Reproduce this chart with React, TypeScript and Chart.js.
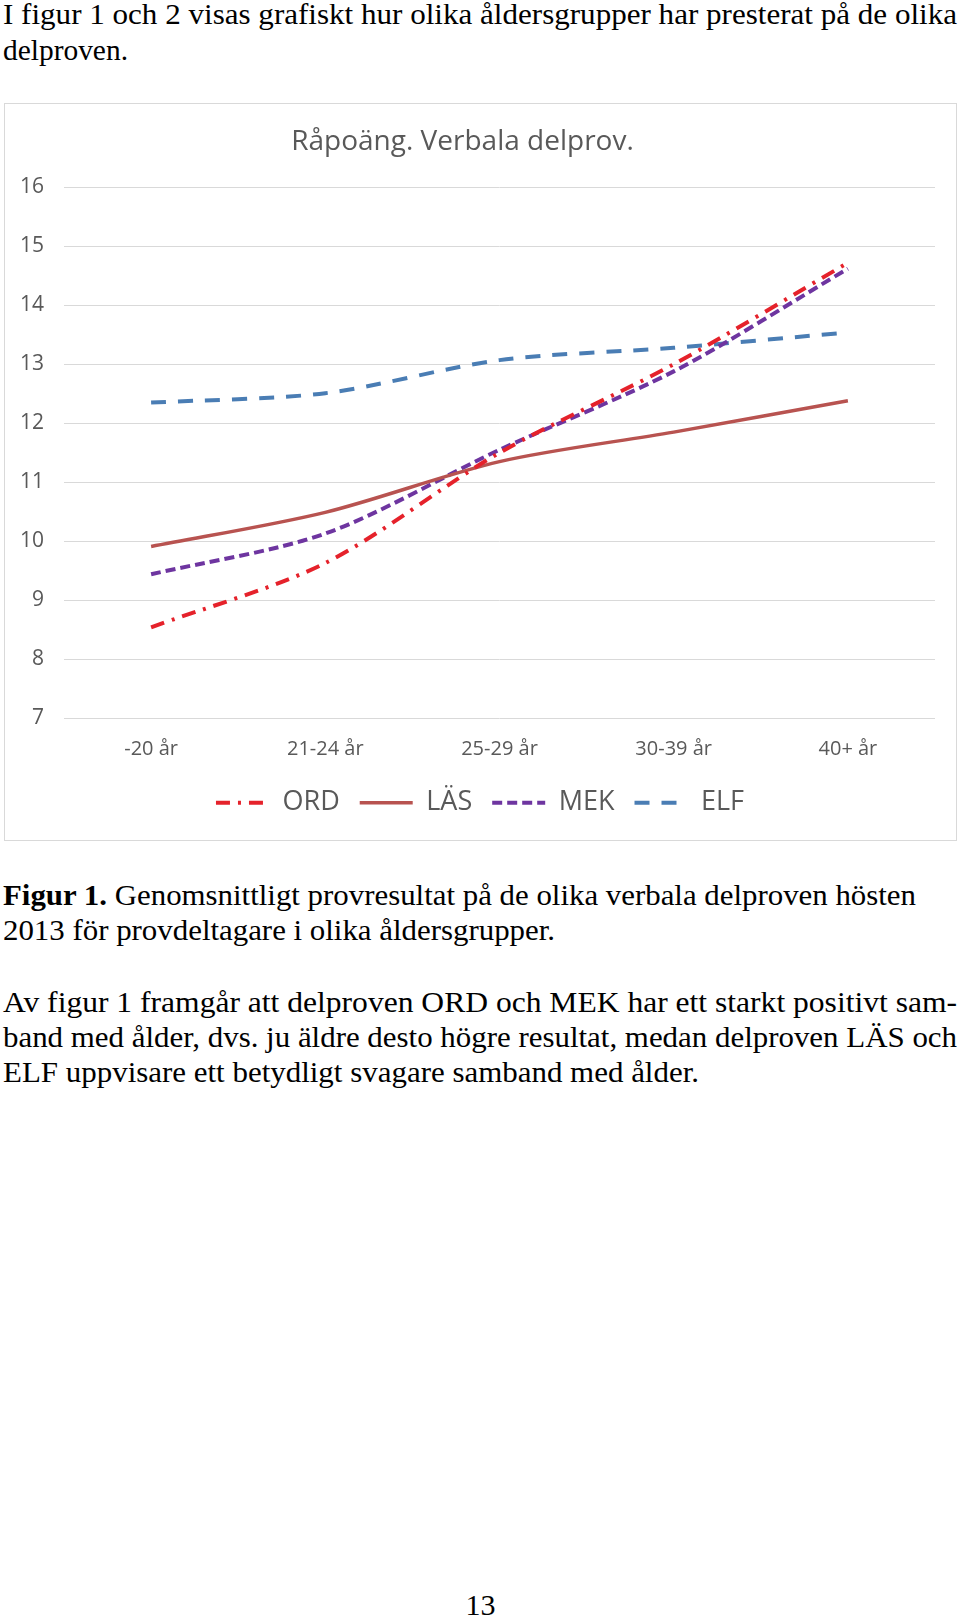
import React, { useEffect, useRef } from "react";
import { Chart, registerables } from "chart.js";

Chart.register(...registerables);

const categories = ["-20 år", "21-24 år", "25-29 år", "30-39 år", "40+ år"];
const ordValues = [8.54, 9.63, 11.5, 13.0, 14.72];
const lasValues = [9.91, 10.49, 11.35, 11.85, 12.38];
const mekValues = [9.44, 10.13, 11.55, 12.88, 14.62];
const elfValues = [12.35, 12.51, 13.07, 13.28, 13.54];
const seriesNames = ["ORD", "LÄS", "MEK", "ELF"];
const yMin = 7;
const yMax = 16;
const yStep = 1;
const chartTitle = "Råpoäng. Verbala delprov.";

const textGray = "#595959";
const tickFont = "'Open Sans', 'DejaVu Sans', sans-serif";

const titlePlugin = {
  id: "offsetTitle",
  afterDraw(chart: any) {
    const ctx = chart.ctx;
    ctx.save();
    ctx.font = `28px ${tickFont}`;
    ctx.fillStyle = textGray;
    ctx.textAlign = "center";
    ctx.textBaseline = "alphabetic";
    ctx.fillText(chartTitle, chart.width / 2 - 17.5, 46);
    ctx.restore();
  },
};

function LineChart() {
  const ref = useRef<HTMLCanvasElement | null>(null);
  useEffect(() => {
    if (!ref.current) return;
    const chart = new Chart(ref.current, {
      type: "line",
      data: {
        labels: categories,
        datasets: [
          {
            label: seriesNames[0],
            data: ordValues,
            borderColor: "#E5222B",
            backgroundColor: "#E5222B",
            borderWidth: 4,
            borderDash: [14, 8, 3, 8],
            borderCapStyle: "butt",
            pointRadius: 0,
            tension: 0.3,
          },
          {
            label: seriesNames[1],
            data: lasValues,
            borderColor: "#B85350",
            backgroundColor: "#B85350",
            borderWidth: 3.5,
            borderDash: [],
            pointRadius: 0,
            tension: 0.3,
          },
          {
            label: seriesNames[2],
            data: mekValues,
            borderColor: "#6E35A0",
            backgroundColor: "#6E35A0",
            borderWidth: 4,
            borderDash: [10, 5],
            borderCapStyle: "butt",
            pointRadius: 0,
            tension: 0.3,
          },
          {
            label: seriesNames[3],
            data: elfValues,
            borderColor: "#4A7DB4",
            backgroundColor: "#4A7DB4",
            borderWidth: 4,
            borderDash: [15, 12],
            borderCapStyle: "butt",
            pointRadius: 0,
            tension: 0.3,
          },
        ],
      },
      options: {
        animation: false,
        responsive: false,
        devicePixelRatio: 1,
        layout: { padding: { left: 0, right: 0, top: 83.3, bottom: 12.8 } },
        plugins: {
          title: { display: false },
          tooltip: { enabled: false },
          legend: {
            position: "bottom",
            labels: {
              usePointStyle: true,
              pointStyle: "line",
              pointStyleWidth: 53,
              padding: 20,
              color: textGray,
              font: { size: 27, family: tickFont },
              generateLabels: (c: any) =>
                c.data.datasets.map((ds: any, i: number) => ({
                  text: ds.label,
                  fillStyle: ds.borderColor,
                  strokeStyle: ds.borderColor,
                  fontColor: textGray,
                  lineWidth: ds.borderWidth,
                  lineDash: ds.borderDash,
                  lineCap: "butt",
                  pointStyle: "line",
                  hidden: false,
                  datasetIndex: i,
                })),
            },
          },
        },
        scales: {
          x: {
            type: "category",
            offset: true,
            grid: { display: false, drawTicks: false },
            border: { display: false },
            ticks: {
              color: textGray,
              font: { size: 20, family: tickFont },
              padding: 19,
              maxRotation: 0,
            },
            afterFit: (scale: any) => {
              scale.height = 51;
            },
          },
          y: {
            min: yMin,
            max: yMax,
            grid: { color: "#D9D9D9", lineWidth: 1, drawTicks: false },
            border: { display: false },
            ticks: {
              stepSize: yStep,
              color: textGray,
              font: { size: 21, family: tickFont },
              padding: 20,
            },
            afterFit: (scale: any) => {
              scale.width = 59;
            },
          },
          yRight: {
            position: "right",
            min: yMin,
            max: yMax,
            grid: { display: false, drawTicks: false },
            border: { display: false },
            ticks: { display: false },
            afterFit: (scale: any) => {
              scale.width = 20;
            },
          },
        },
      },
      plugins: [titlePlugin],
    });
    return () => chart.destroy();
  }, []);
  return (
    <canvas
      ref={ref}
      width={950}
      height={735}
      style={{ position: "absolute", left: 5, top: 104, width: 950, height: 735 }}
    />
  );
}

const serif = "'Liberation Serif', 'Times New Roman', serif";

export default function App() {
  return (
    <div
      style={{
        position: "absolute",
        left: 0,
        top: 0,
        width: 960,
        height: 1618,
        background: "#fff",
        overflow: "hidden",
      }}
    >
      <svg
        width={960}
        height={1618}
        style={{ position: "absolute", left: 0, top: 0 }}
        fontFamily={serif}
        fontSize={30}
        fill="#000"
      >
        <text x={3} y={24} textLength={954} lengthAdjust="spacingAndGlyphs">
          I figur 1 och 2 visas grafiskt hur olika åldersgrupper har presterat på de olika
        </text>
        <text x={3} y={59.5} textLength={125} lengthAdjust="spacingAndGlyphs">
          delproven.
        </text>
        <text x={3} y={905} textLength={913} lengthAdjust="spacingAndGlyphs">
          <tspan fontWeight="bold">Figur 1.</tspan> Genomsnittligt provresultat på de olika verbala delproven hösten
        </text>
        <text x={3} y={940} textLength={552} lengthAdjust="spacingAndGlyphs">
          2013 för provdeltagare i olika åldersgrupper.
        </text>
        <text x={3} y={1011.5} textLength={954} lengthAdjust="spacingAndGlyphs">
          Av figur 1 framgår att delproven ORD och MEK har ett starkt positivt sam-
        </text>
        <text x={3} y={1046.5} textLength={954} lengthAdjust="spacingAndGlyphs">
          band med ålder, dvs. ju äldre desto högre resultat, medan delproven LÄS och
        </text>
        <text x={3} y={1081.5} textLength={696} lengthAdjust="spacingAndGlyphs">
          ELF uppvisare ett betydligt svagare samband med ålder.
        </text>
        <text x={480.5} y={1615} textAnchor="middle">
          13
        </text>
      </svg>
      <div
        style={{
          position: "absolute",
          left: 4,
          top: 103,
          width: 953,
          height: 738,
          boxSizing: "border-box",
          border: "1px solid #D9D9D9",
        }}
      />
      <LineChart />
    </div>
  );
}
